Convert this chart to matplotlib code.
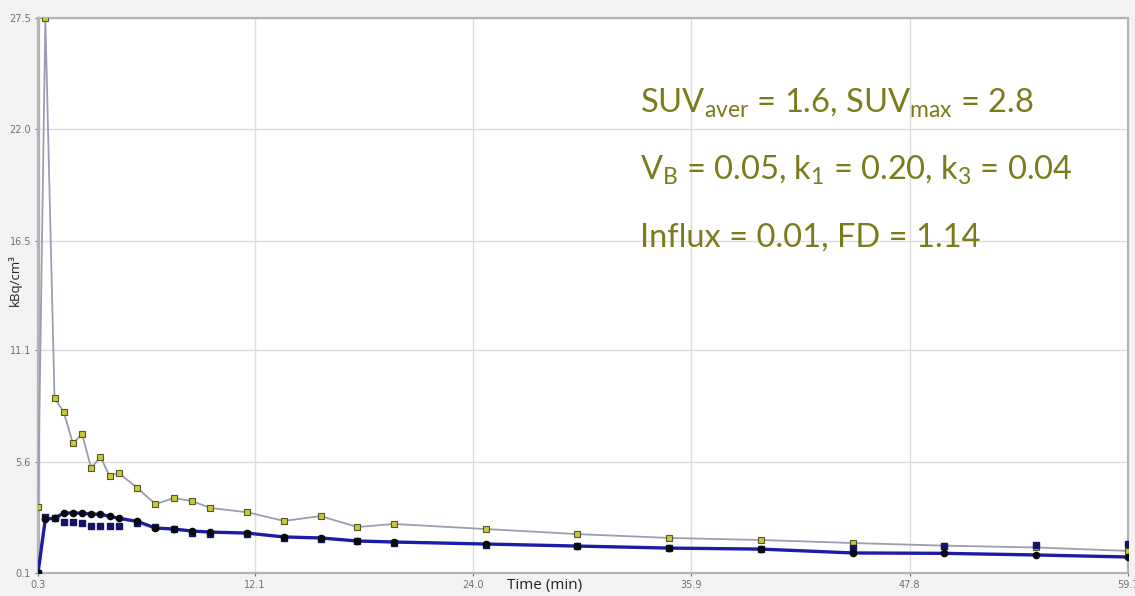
import matplotlib
matplotlib.use("Agg")
import matplotlib.pyplot as plt

# ---- data ----
time_min = [0.3, 0.7, 1.2, 1.7, 2.2, 2.7, 3.2, 3.7, 4.2, 4.7, 5.7, 6.7, 7.7, 8.7,
            9.7, 11.7, 13.7, 15.7, 17.7, 19.7, 24.7, 29.7, 34.7, 39.7, 44.7,
            49.7, 54.7, 59.7]
input_kbq = [3.36, 27.5, 8.74, 8.05, 6.5, 6.96, 5.28, 5.83, 4.9, 5.04, 4.3, 3.5,
             3.8, 3.65, 3.31, 3.1, 2.67, 2.91, 2.37, 2.52, 2.27, 2.02, 1.83,
             1.73, 1.58, 1.45, 1.36, 1.19]
tissue_kbq = [0.1, 2.85, 2.8, 2.6, 2.6, 2.55, 2.42, 2.42, 2.42, 2.42, 2.57, 2.35,
              2.25, 2.08, 2.02, 2.05, 1.85, 1.8, 1.66, 1.58, 1.5, 1.43, 1.33,
              1.28, 1.33, 1.43, 1.48, 1.53]
fit_kbq = [0.1, 2.77, 2.8, 3.06, 3.06, 3.06, 3.0, 3.0, 2.9, 2.8, 2.65, 2.32,
           2.27, 2.17, 2.12, 2.07, 1.88, 1.83, 1.68, 1.63, 1.53, 1.43, 1.33,
           1.28, 1.09, 1.07, 0.99, 0.89]
x_ticks = [0.3, 12.1, 24.0, 35.9, 47.8, 59.7]
y_ticks = [0.1, 5.6, 11.1, 16.5, 22.0, 27.5]
x_tick_labels = ["0.3", "12.1", "24.0", "35.9", "47.8", "59.7"]
y_tick_labels = ["0.1", "5.6", "11.1", "16.5", "22.0", "27.5"]
annotations = [
    r"SUV$\mathregular{_{aver}}$ = 1.6, SUV$\mathregular{_{max}}$ = 2.8",
    r"V$\mathregular{_{B}}$ = 0.05, k$\mathregular{_{1}}$ = 0.20, k$\mathregular{_{3}}$ = 0.04",
    "Influx = 0.01, FD = 1.14",
]

fig = plt.figure(figsize=(11.35, 5.96), dpi=100, facecolor="#f3f3f3")
ax = fig.add_axes([38 / 1135, 1 - 573 / 596, (1128 - 38) / 1135, (573 - 18) / 596])
ax.set_facecolor("white")

ax.plot(time_min, input_kbq, color="#9c9cb2", lw=1.3, zorder=3)
ax.plot(time_min, input_kbq, ls="none", marker="s", ms=4.5, mfc="#c9c936",
        mec="#55552a", mew=0.8, zorder=4)
ax.plot(time_min, fit_kbq, color="#1c1ca6", lw=2.4, zorder=5)
ax.plot(time_min, tissue_kbq, ls="none", marker="s", ms=5, mfc="#141466",
        mec="#141466", zorder=6)
ax.plot(time_min, fit_kbq, ls="none", marker="o", ms=4.5, mfc="#0a0a0a",
        mec="#0a0a0a", zorder=7)

ax.set_xlim(0.3, 59.7)
ax.set_ylim(0.1, 27.5)
ax.set_xticks(x_ticks)
ax.set_xticklabels(x_tick_labels)
ax.set_yticks(y_ticks)
ax.set_yticklabels(y_tick_labels)
ax.tick_params(axis="both", labelsize=7, colors="#707070", length=2,
               width=0.8, pad=3)
ax.grid(True, color="#dcdcdc", lw=1)
ax.set_axisbelow(True)
for side, sp in ax.spines.items():
    sp.set_color("#b4b4b4")
    sp.set_linewidth(1.6)
ax.spines["left"].set_linewidth(2.4)

fig.text(545 / 1135, 1 - 585 / 596, "Time (min)", ha="center", va="center",
         fontsize=11, color="#222222", family="Open Sans")
fig.text(15 / 1135, 1 - 280 / 596, "kBq/cm³", ha="center", va="center",
         rotation=90, fontsize=9.5, color="#222222", family="Open Sans")

ys = [113, 180, 247]
for txt, yb in zip(annotations, ys):
    fig.text(640 / 1135, 1 - yb / 596, txt, ha="left", va="baseline",
             fontsize=23.5, color="#7b7b1c", family="Lato")

fig.savefig("out.png", dpi=100, facecolor=fig.get_facecolor())
